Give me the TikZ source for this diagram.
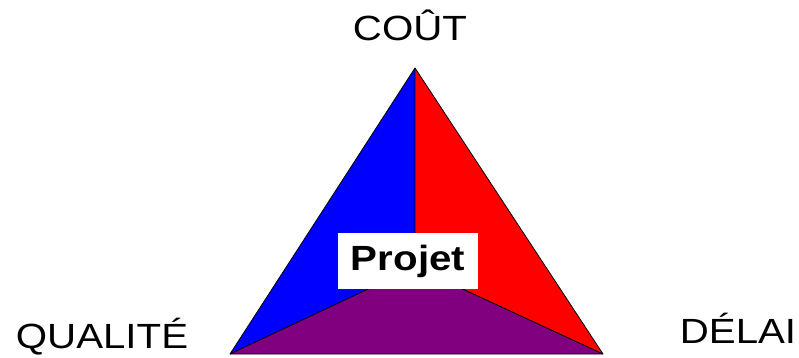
\documentclass[tikz,border=0pt]{standalone}
\usepackage{fontspec}
\setmainfont{Liberation Sans}
\usepackage{graphicx}
\begin{document}
\begin{tikzpicture}[x=1pt,y=-1pt,
  lbl/.style={inner sep=0pt, font=\fontsize{35}{40}\selectfont},
  face/.style={draw=black, line width=0.8pt, line join=round},
  boxlbl/.style={fill=white, inner sep=0pt, minimum width=140pt, minimum height=56pt, font=\fontsize{35}{40}\selectfont\bfseries}]
\useasboundingbox (0,0) rectangle (799,358);
\coordinate (A) at (415,68);
\coordinate (BL) at (230,354);
\coordinate (BR) at (603,354);
\coordinate (C) at (415,267);
\fill[blue] (A) -- (BL) -- (C) -- cycle;
\fill[red] (A) -- (C) -- (BR) -- cycle;
\fill[violet!60!black, fill={rgb,255:red,128;green,0;blue,128}] (BL) -- (C) -- (BR) -- cycle;
\draw[face] (A) -- (BL) -- (BR) -- cycle;
\draw[face] (A) -- (C) -- (BL);
\draw[face] (C) -- (BR);
\node[boxlbl] (P) at (408,261) {\scalebox{1.15}[1]{Projet}};
\node[lbl, anchor=base] (cout) at (410,41) {\scalebox{1.15}[1]{COÛT}};
\node[lbl, anchor=base] (qual) at (102,348) {\scalebox{1.15}[1]{QUALITÉ}};
\node[lbl, anchor=base] (delai) at (738,343) {\scalebox{1.15}[1]{DÉLAI}};
\end{tikzpicture}
\end{document}
